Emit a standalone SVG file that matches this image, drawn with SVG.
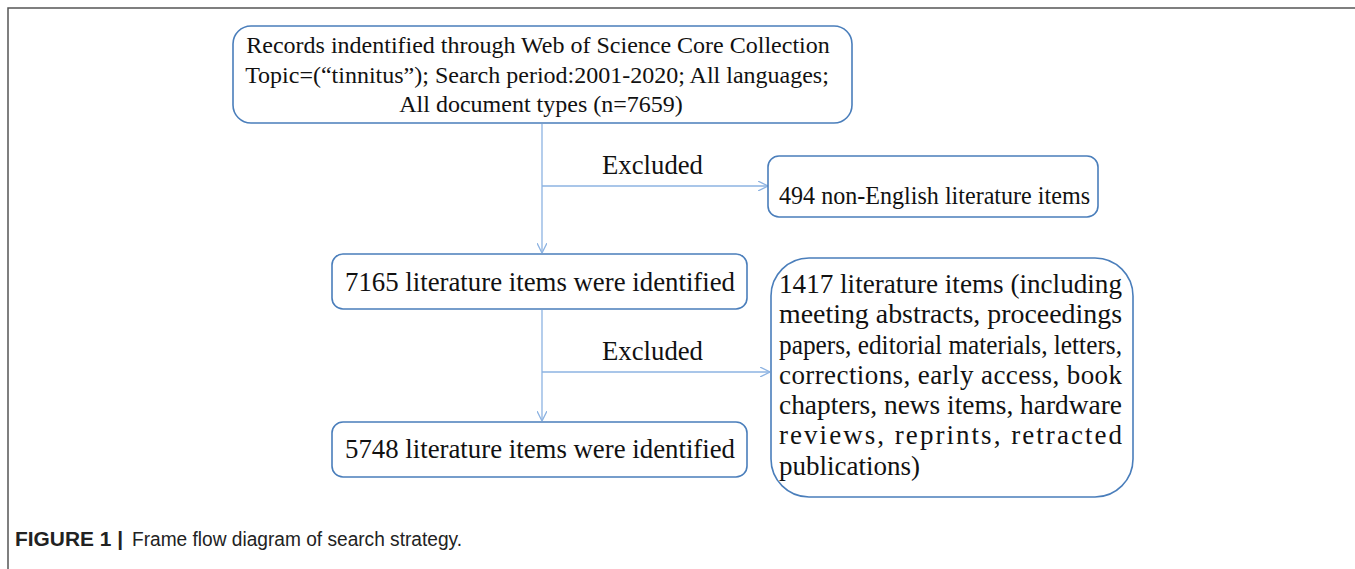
<svg xmlns="http://www.w3.org/2000/svg" width="1355" height="569" viewBox="0 0 1355 569">
<style>
.box{fill:#fff;stroke:#4a7ebb;stroke-width:1.6}
.t{font-family:"Liberation Serif","Times New Roman",serif;fill:#111}
.conn{stroke:#8db3e2;stroke-width:1.3;fill:none}
.cap{font-family:"Liberation Sans",Arial,sans-serif;font-size:20px;fill:#222}
</style>
<defs>
<marker id="arr" viewBox="0 0 10 10" refX="10" refY="5" markerWidth="10" markerHeight="10" markerUnits="userSpaceOnUse" orient="auto">
<path d="M0,0 L10,5 L0,10" fill="none" stroke="#8db3e2" stroke-width="1.3"/>
</marker>
</defs>
<rect width="1355" height="569" fill="#fff"/>
<path d="M8,569 L8,8 L1355,8" fill="none" stroke="#555" stroke-width="1.5"/>

<g id="connectors">
<line class="conn" x1="542" y1="124" x2="542" y2="253" marker-end="url(#arr)"/>
<line class="conn" x1="542" y1="186" x2="768" y2="186" marker-end="url(#arr)"/>
<line class="conn" x1="542" y1="310" x2="542" y2="421" marker-end="url(#arr)"/>
<line class="conn" x1="542" y1="372" x2="770" y2="372" marker-end="url(#arr)"/>
<text class="t" x="602" y="174" font-size="27" textLength="101" lengthAdjust="spacingAndGlyphs">Excluded</text>
<text class="t" x="602" y="360" font-size="27" textLength="101" lengthAdjust="spacingAndGlyphs">Excluded</text>
</g>

<g id="node-records">
<rect class="box" x="233" y="26" width="619" height="97" rx="18"/>
<text class="t" font-size="24" text-anchor="middle">
<tspan x="541" y="53">Records indentified through Web of Science Core Collection</tspan>
<tspan x="540" y="83">Topic=(“tinnitus”); Search period:2001-2020; All languages;</tspan>
<tspan x="541" y="112">All document types (n=7659)</tspan>
</text>
</g>

<g id="node-nonenglish">
<rect class="box" x="768" y="156" width="330" height="61" rx="11"/>
<text class="t" x="779" y="204" font-size="26" textLength="311" lengthAdjust="spacingAndGlyphs">494 non-English literature items</text>
</g>

<g id="node-7165">
<rect class="box" x="332" y="254" width="415" height="55" rx="11"/>
<text class="t" x="345" y="291" font-size="27" textLength="390" lengthAdjust="spacingAndGlyphs">7165 literature items were identified</text>
</g>

<g id="node-5748">
<rect class="box" x="332" y="422" width="415" height="55" rx="11"/>
<text class="t" x="345" y="458" font-size="27" textLength="390" lengthAdjust="spacingAndGlyphs">5748 literature items were identified</text>
</g>

<g id="node-1417">
<rect class="box" x="771" y="258" width="362" height="239" rx="38"/>
<text class="t" font-size="27">
<tspan x="779" y="293" textLength="343" lengthAdjust="spacingAndGlyphs">1417 literature items (including</tspan>
<tspan x="779" y="323" textLength="343" lengthAdjust="spacingAndGlyphs">meeting abstracts, proceedings</tspan>
<tspan x="779" y="354" textLength="343" lengthAdjust="spacingAndGlyphs">papers, editorial materials, letters,</tspan>
<tspan x="779" y="384" textLength="343" lengthAdjust="spacing">corrections, early access, book</tspan>
<tspan x="779" y="414" textLength="343" lengthAdjust="spacingAndGlyphs">chapters, news items, hardware</tspan>
<tspan x="779" y="444" textLength="343" lengthAdjust="spacing">reviews, reprints, retracted</tspan>
<tspan x="779" y="475">publications)</tspan>
</text>
</g>

<g id="caption">
<text class="cap" y="546"><tspan x="15" font-weight="bold" textLength="108" lengthAdjust="spacingAndGlyphs">FIGURE 1 |</tspan><tspan x="132" textLength="330" lengthAdjust="spacingAndGlyphs">Frame flow diagram of search strategy.</tspan></text>
</g>
</svg>
